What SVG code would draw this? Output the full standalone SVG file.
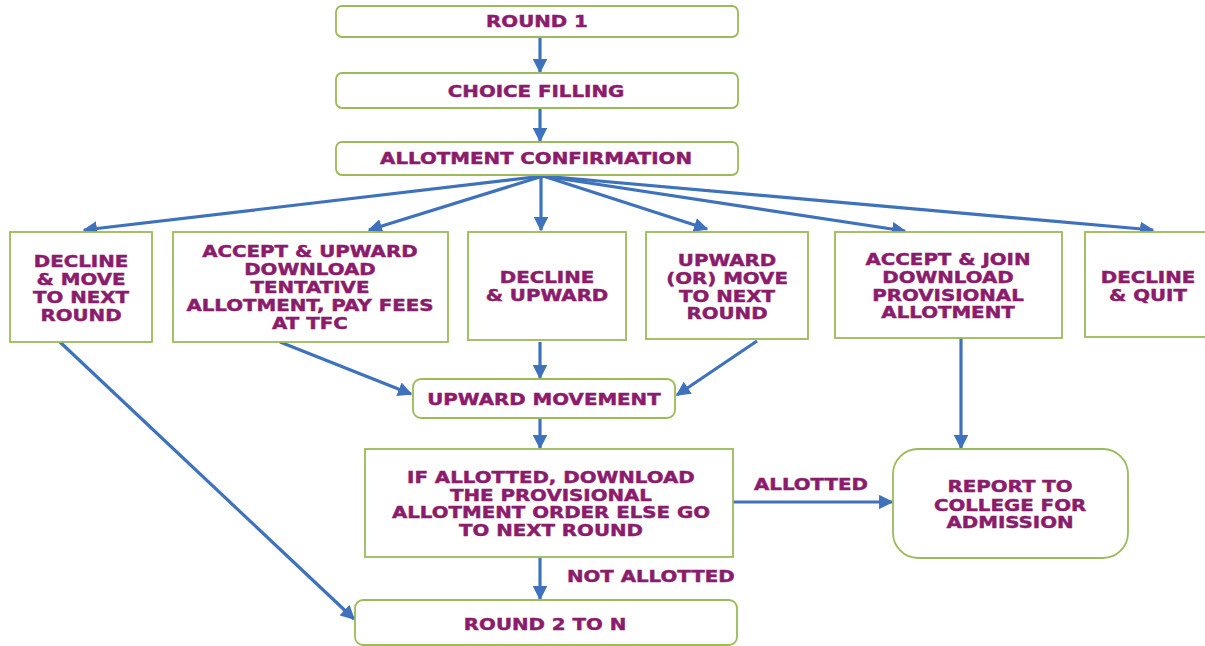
<svg xmlns="http://www.w3.org/2000/svg" width="1205" height="646" viewBox="0 0 1205 646">
<defs>
<marker id="ah" viewBox="0 0 10 10" refX="9" refY="5" markerWidth="4.5" markerHeight="4.5" orient="auto" markerUnits="strokeWidth">
<path d="M0,0 L10,5 L0,10 z" fill="#3E72BC"/>
</marker>
<style>
.box{fill:#ffffff;stroke:#9BBB59;stroke-width:1.8}
.edge{fill:none;stroke:#3E72BC;stroke-width:3.2;marker-end:url(#ah)}
.t{font-family:"DejaVu Sans",Verdana,sans-serif;font-weight:bold;font-size:15px;fill:#8B1C6C;stroke:#8B1C6C;stroke-width:0.45;text-anchor:middle}
.ts{text-anchor:start}
</style>
</defs>
<rect width="1205" height="646" fill="#ffffff"/>

<g id="connectors">
<line class="edge" x1="540" y1="38" x2="540" y2="72"/>
<line class="edge" x1="540" y1="109" x2="540" y2="141"/>
<line class="edge" x1="543" y1="176" x2="84" y2="230"/>
<line class="edge" x1="543" y1="176" x2="369" y2="230"/>
<line class="edge" x1="541" y1="176" x2="541" y2="230"/>
<line class="edge" x1="543" y1="176" x2="707" y2="229"/>
<line class="edge" x1="543" y1="176" x2="905" y2="231"/>
<line class="edge" x1="543" y1="176" x2="1153" y2="230"/>
<line class="edge" x1="280" y1="342" x2="411" y2="394"/>
<line class="edge" x1="540" y1="342" x2="540" y2="378"/>
<line class="edge" x1="757" y1="341" x2="677" y2="395"/>
<line class="edge" x1="540" y1="419" x2="540" y2="448"/>
<line class="edge" x1="961" y1="338" x2="961" y2="448"/>
<line class="edge" x1="733" y1="502" x2="892" y2="502"/>
<line class="edge" x1="540" y1="558" x2="540" y2="599"/>
<line class="edge" x1="60" y1="342" x2="354" y2="619"/>
</g>

<g id="round1"><rect class="box" x="336" y="6" width="402" height="31" rx="6"/></g>
<g id="choice"><rect class="box" x="336" y="73" width="402" height="35" rx="6"/></g>
<g id="confirm"><rect class="box" x="336" y="142" width="402" height="33" rx="6"/></g>
<g id="decline-move"><rect class="box" x="10" y="232" width="142" height="110"/></g>
<g id="accept-upward"><rect class="box" x="173" y="232" width="275" height="110"/></g>
<g id="decline-upward"><rect class="box" x="468" y="232" width="158" height="108"/></g>
<g id="upward-or-move"><rect class="box" x="646" y="232" width="162" height="107"/></g>
<g id="accept-join"><rect class="box" x="835" y="232" width="227" height="106"/></g>
<g id="decline-quit"><rect class="box" x="1085" y="232" width="140" height="105"/></g>
<g id="upward-movement"><rect class="box" x="413" y="379" width="262" height="39" rx="8"/></g>
<g id="if-allotted"><rect class="box" x="365" y="449" width="368" height="108"/></g>
<g id="report"><rect class="box" x="893" y="449" width="235" height="109" rx="25"/></g>
<g id="round2n"><rect class="box" x="355" y="600" width="382" height="45" rx="8"/></g>

<g id="labels" transform="scale(1.32,1)">
<text class="t" x="406.8" y="27.5">ROUND 1</text>
<text class="t" x="406.1" y="97">CHOICE FILLING</text>
<text class="t" x="406.1" y="164">ALLOTMENT CONFIRMATION</text>

<text class="t" x="61.4" y="267">DECLINE</text>
<text class="t" x="61.4" y="285">&amp; MOVE</text>
<text class="t" x="61.4" y="303">TO NEXT</text>
<text class="t" x="61.4" y="321">ROUND</text>

<text class="t" x="234.8" y="257.5">ACCEPT &amp; UPWARD</text>
<text class="t" x="234.8" y="275.5">DOWNLOAD</text>
<text class="t" x="234.8" y="293.5">TENTATIVE</text>
<text class="t" x="234.8" y="311.5">ALLOTMENT, PAY FEES</text>
<text class="t" x="234.8" y="329.5">AT TFC</text>

<text class="t" x="414.4" y="283">DECLINE</text>
<text class="t" x="414.4" y="301.5">&amp; UPWARD</text>

<text class="t" x="550.8" y="266">UPWARD</text>
<text class="t" x="550.8" y="284">(OR) MOVE</text>
<text class="t" x="550.8" y="302">TO NEXT</text>
<text class="t" x="550.8" y="319.5">ROUND</text>

<text class="t" x="718.2" y="265">ACCEPT &amp; JOIN</text>
<text class="t" x="718.2" y="283">DOWNLOAD</text>
<text class="t" x="718.2" y="301">PROVISIONAL</text>
<text class="t" x="718.2" y="318">ALLOTMENT</text>

<text class="t" x="869.7" y="283">DECLINE</text>
<text class="t" x="869.7" y="301">&amp; QUIT</text>

<text class="t" x="412.1" y="405">UPWARD MOVEMENT</text>

<text class="t" x="417.4" y="483">IF ALLOTTED, DOWNLOAD</text>
<text class="t" x="417.4" y="501">THE PROVISIONAL</text>
<text class="t" x="417.4" y="518.5">ALLOTMENT ORDER ELSE GO</text>
<text class="t" x="417.4" y="536.5">TO NEXT ROUND</text>

<text class="t" x="614.4" y="490">ALLOTTED</text>

<text class="t" x="765.2" y="492">REPORT TO</text>
<text class="t" x="765.2" y="511">COLLEGE FOR</text>
<text class="t" x="765.2" y="528.5">ADMISSION</text>

<text class="t ts" x="429.5" y="582">NOT ALLOTTED</text>

<text class="t" x="412.9" y="630">ROUND 2 TO N</text>
</g>
</svg>
